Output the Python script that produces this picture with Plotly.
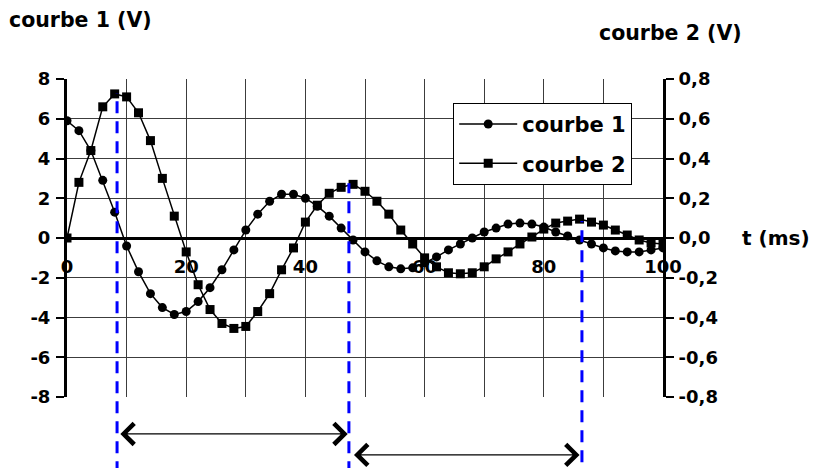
import plotly.graph_objects as go

# ---- data ----
t_ms = list(range(0, 101, 2))
courbe1_V = [5.9, 5.4, 4.4, 2.9, 1.3, -0.4, -1.7, -2.8, -3.5, -3.85,
             -3.7, -3.2, -2.5, -1.6, -0.6, 0.4, 1.2, 1.85, 2.2, 2.2,
             2.0, 1.6, 1.1, 0.5, -0.1, -0.7, -1.15, -1.45, -1.55, -1.5,
             -1.25, -0.95, -0.6, -0.3, 0.0, 0.3, 0.5, 0.7, 0.75, 0.7,
             0.55, 0.3, 0.1, -0.1, -0.3, -0.5, -0.65, -0.7, -0.7, -0.6, -0.5]
courbe2_V = [0.0, 0.28, 0.44, 0.66, 0.725, 0.71, 0.63, 0.49, 0.30, 0.11,
             -0.07, -0.235, -0.36, -0.43, -0.455, -0.445, -0.37, -0.28, -0.16, -0.05,
             0.08, 0.165, 0.225, 0.255, 0.27, 0.235, 0.185, 0.12, 0.04, -0.03,
             -0.10, -0.145, -0.175, -0.18, -0.175, -0.145, -0.105, -0.07, -0.03, 0.005,
             0.045, 0.075, 0.085, 0.095, 0.08, 0.065, 0.04, 0.015, -0.01, -0.025, -0.03]

x_tickvals = [0, 20, 40, 60, 80, 100]
x_ticktext = ["0", "20", "40", "60", "80", "100"]
y1_tickvals = [-8, -6, -4, -2, 0, 2, 4, 6, 8]
y1_ticktext = ["-8", "-6", "-4", "-2", "0", "2", "4", "6", "8"]
y2_tickvals = [-0.8, -0.6, -0.4, -0.2, 0.0, 0.2, 0.4, 0.6, 0.8]
y2_ticktext = ["-0,8", "-0,6", "-0,4", "-0,2", "0,0", "0,2", "0,4", "0,6", "0,8"]

# peak times of courbe 2 (blue dashed markers) and their levels (courbe 1 scale)
peak_times = [8.4, 47.3, 86.4]
peak_levels = [7.3, 2.75, 0.85]

FONT = "DejaVu Sans"
Y1MIN, Y1MAX = -8, 8

fig = go.Figure()
fig.add_trace(go.Scatter(
    x=t_ms, y=courbe1_V, name="courbe 1", mode="lines+markers",
    line=dict(color="black", width=1.5),
    marker=dict(symbol="circle", size=9, color="black"),
    legendgroup="g1", yaxis="y"))
fig.add_trace(go.Scatter(
    x=t_ms, y=courbe2_V, name="courbe 2", mode="lines+markers",
    line=dict(color="black", width=1.5),
    marker=dict(symbol="square", size=9, color="black"),
    legendgroup="g2", yaxis="y2"))

grid_col = "rgb(60,60,60)"

shapes = []
bottoms = [-0.24, -0.24, -0.205]
for tp, lv, b in zip(peak_times, peak_levels, bottoms):
    shapes.append(dict(type="line", xref="x", yref="paper",
                       x0=tp, x1=tp, y0=b, y1=(lv - Y1MIN) / (Y1MAX - Y1MIN),
                       line=dict(color="rgb(0,0,255)", width=3, dash="12px,8px"),
                       layer="above"))

annotations = [
    dict(text="courbe 1 (V)", xref="paper", yref="paper", x=-0.101, y=1.186,
         xanchor="left", yanchor="middle", showarrow=False,
         font=dict(size=20.5, family=FONT, weight="bold", color="black")),
    dict(text="courbe 2 (V)", xref="paper", yref="paper", x=0.889, y=1.145,
         xanchor="left", yanchor="middle", showarrow=False,
         font=dict(size=20.5, family=FONT, weight="bold", color="black")),
    dict(text="t (ms)", xref="paper", yref="paper", x=1.130, y=0.5,
         xanchor="left", yanchor="middle", showarrow=False,
         font=dict(size=20, family=FONT, weight="bold", color="black")),
]
arrow_rows = [(-0.116, peak_times[0] + 0.3, peak_times[1] - 0.2),
              (-0.182, peak_times[1] + 0.6, peak_times[2] - 0.4)]
for yy, xa, xb in arrow_rows:
    annotations.append(dict(
        text="", xref="x", yref="paper", x=xb, y=yy,
        axref="x", ayref="pixel", ax=xa, ay=0, showarrow=True,
        arrowhead=4, startarrowhead=4, arrowside="end+start",
        arrowsize=3.4, startarrowsize=3.4, arrowwidth=1.2, arrowcolor="black",
        standoff=0, startstandoff=0))

fig.update_layout(
    width=815, height=468,
    margin=dict(l=67, r=152, t=79, b=71),
    paper_bgcolor="white", plot_bgcolor="white",
    font=dict(family=FONT, size=18, color="black", weight="bold"),
    showlegend=True,
    legend=dict(x=0.648, y=0.925, xanchor="left", yanchor="top",
                bgcolor="white", bordercolor="black", borderwidth=1,
                font=dict(size=21, family=FONT, weight="bold"),
                traceorder="grouped", tracegroupgap=9, itemwidth=58),
    xaxis=dict(range=[0, 100], anchor="free", position=0.5,
               tickvals=x_tickvals, ticktext=x_ticktext,
               showline=True, linecolor="black", linewidth=2.5,
               ticks="", ticklabelstandoff=12,
               showgrid=True, gridcolor=grid_col, gridwidth=1,
               minor=dict(dtick=10, tick0=0, showgrid=True, gridcolor=grid_col, gridwidth=1),
               zeroline=False, tickfont=dict(size=18, family=FONT, weight="bold")),
    yaxis=dict(range=[Y1MIN, Y1MAX], tickvals=y1_tickvals, ticktext=y1_ticktext,
               showline=True, linecolor="black", linewidth=3,
               ticks="outside", ticklen=8, tickwidth=2, tickcolor="black",
               ticklabelstandoff=2,
               showgrid=True, gridcolor=grid_col, gridwidth=1, zeroline=False,
               tickfont=dict(size=18, family=FONT, weight="bold")),
    yaxis2=dict(range=[-0.8, 0.8], overlaying="y", side="right", anchor="x",
                tickvals=y2_tickvals, ticktext=y2_ticktext,
                showline=True, linecolor="black", linewidth=3,
                ticks="outside", ticklen=8, tickwidth=2, tickcolor="black",
                ticklabelstandoff=1,
                showgrid=False, zeroline=False,
                tickfont=dict(size=18, family=FONT, weight="bold")),
    shapes=shapes, annotations=annotations,
    hovermode=False,
)

fig.write_html("out.html", config={"displayModeBar": False},
               post_script="document.body.style.margin='0';")
